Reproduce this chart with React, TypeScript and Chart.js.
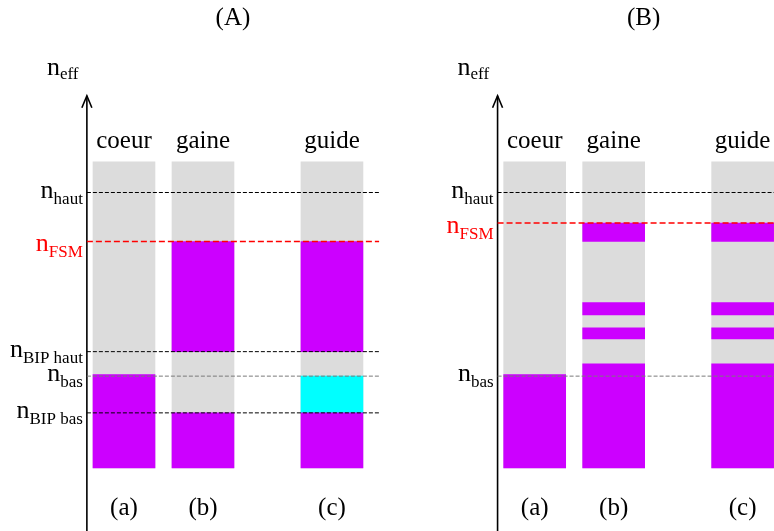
import React, { useEffect, useRef } from "react";
import { Chart, registerables } from "chart.js";

Chart.register(...registerables);

// ---------------- data ----------------
const panelTitles = ["(A)", "(B)"];
const panelShift = [0, 5.2]; // panel offset, in column pitches
const columnNames = ["coeur", "gaine", "guide"];
const columnTags = ["(a)", "(b)", "(c)"];
const columnX = [0, 1, 2.633]; // column centres, in column pitches
const axisX = -0.47;
const levelLineEnd = 3.23;

const xMin = -1.57;
const xMax = 8.23;
const yMin = -2.06;
const yMax = 15.29;
const axisTop = 12.16;

const bandBottom = 0;
const bandTop = 10;

const levelNamesA = ["haut", "FSM", "BIP haut", "bas", "BIP bas"];
const levelValuesA = [9.0, 7.4, 3.8, 3.0, 1.8];
const levelNamesB = ["haut", "FSM", "bas"];
const levelValuesB = [9.0, 8.0, 3.0];

// guided bands (magenta), [low, high]
const guidedACoeur = [[0, 3.05]];
const guidedAGaine = [[0, 1.8], [3.8, 7.4]];
const guidedAGuide = [[0, 1.8], [3.8, 7.4]];
const bipAGuide = [[1.8, 3.0]]; // cyan band
const guidedBCoeur = [[0, 3.05]];
const guidedBGaine = [[0, 3.4], [4.22, 4.58], [5.0, 5.4], [7.4, 8.0]];
const guidedBGuide = [[0, 3.4], [4.22, 4.58], [5.0, 5.4], [7.4, 8.0]];

// ---------------- styles ----------------
const GRAY = "#dcdcdc";
const MAGENTA = "#cc00ff";
const CYAN = "#00ffff";
const FONT = '"Liberation Serif", "Times New Roman", serif';
const levelStyle: Record<string, { color: string; dash: number[]; width: number; text: string; dy: number }> = {
  haut: { color: "#000", dash: [4, 2], width: 1, text: "#000", dy: 0 },
  FSM: { color: "#ff0000", dash: [6, 3], width: 1.5, text: "#ff0000", dy: 5 },
  "BIP haut": { color: "#000", dash: [4, 2], width: 1, text: "#000", dy: 0 },
  bas: { color: "#7a7a7a", dash: [4, 2], width: 1, text: "#000", dy: 0 },
  "BIP bas": { color: "#000", dash: [4, 2], width: 1, text: "#000", dy: 0 },
};

function buildDatasets() {
  const grayPts: any[] = [];
  const magPts: any[] = [];
  const cyanPts: any[] = [];
  panelShift.forEach((s) =>
    columnX.forEach((cx) => grayPts.push({ x: s + cx, y: [bandBottom, bandTop] }))
  );
  const guided = [
    [guidedACoeur, guidedAGaine, guidedAGuide],
    [guidedBCoeur, guidedBGaine, guidedBGuide],
  ];
  guided.forEach((cols, p) =>
    cols.forEach((segs, c) =>
      segs.forEach((seg) => magPts.push({ x: panelShift[p] + columnX[c], y: seg }))
    )
  );
  bipAGuide.forEach((seg) => cyanPts.push({ x: panelShift[0] + columnX[2], y: seg }));

  const ds: any[] = [
    { type: "bar", data: grayPts, backgroundColor: GRAY, barThickness: 62, grouped: false, order: 3 },
    { type: "bar", data: magPts, backgroundColor: MAGENTA, barThickness: 62, grouped: false, order: 2 },
    { type: "bar", data: cyanPts, backgroundColor: CYAN, barThickness: 62, grouped: false, order: 2 },
  ];
  const levels = [
    [levelNamesA, levelValuesA],
    [levelNamesB, levelValuesB],
  ] as [string[], number[]][];
  levels.forEach(([names, vals], p) => {
    const s = panelShift[p];
    names.forEach((nm, i) => {
      const st = levelStyle[nm];
      ds.push({
        type: "line",
        data: [
          { x: s + axisX, y: vals[i] },
          { x: s + levelLineEnd, y: vals[i] },
        ],
        borderColor: st.color,
        borderDash: st.dash,
        borderWidth: st.width,
        pointRadius: 0,
        fill: false,
        order: 0,
      });
    });
    ds.push({
      type: "line",
      data: [
        { x: s + axisX, y: yMin },
        { x: s + axisX, y: axisTop },
      ],
      borderColor: "#000",
      borderWidth: 1.6,
      pointRadius: 0,
      fill: false,
      order: 0,
    });
  });
  return { ds, levels };
}

function drawSub(
  ctx: CanvasRenderingContext2D,
  main: string,
  sub: string,
  left: number | null,
  right: number | null,
  base: number,
  subBase: number,
  color: string
) {
  ctx.font = `26px ${FONT}`;
  const wm = ctx.measureText(main).width;
  ctx.font = `17px ${FONT}`;
  const ws = ctx.measureText(sub).width;
  const x0 = left !== null ? left : (right as number) - wm - ws;
  ctx.fillStyle = color;
  ctx.textAlign = "left";
  ctx.textBaseline = "alphabetic";
  ctx.font = `26px ${FONT}`;
  ctx.fillText(main, x0, base);
  ctx.font = `17px ${FONT}`;
  ctx.fillText(sub, x0 + wm, subBase);
}

export default function App() {
  const ref = useRef<HTMLCanvasElement | null>(null);
  useEffect(() => {
    if (!ref.current) return;
    const { ds, levels } = buildDatasets();
    const textPlugin = {
      id: "textPlugin",
      afterDraw(chart: any) {
        const ctx: CanvasRenderingContext2D = chart.ctx;
        const xs = chart.scales.x;
        const ys = chart.scales.y;
        const top = chart.chartArea.top;
        const grayTopPx = ys.getPixelForValue(bandTop);
        const bottomPx = ys.getPixelForValue(bandBottom);
        const tipPx = ys.getPixelForValue(axisTop);
        ctx.save();
        panelShift.forEach((s, p) => {
          const axPx = xs.getPixelForValue(s + axisX);
          // arrow head
          ctx.strokeStyle = "#000";
          ctx.lineWidth = 1.6;
          ctx.beginPath();
          ctx.moveTo(axPx - 5, tipPx + 12);
          ctx.lineTo(axPx, tipPx);
          ctx.lineTo(axPx + 5, tipPx + 12);
          ctx.stroke();
          // title
          const c0 = xs.getPixelForValue(s + columnX[0]);
          const c2 = xs.getPixelForValue(s + columnX[2]);
          ctx.fillStyle = "#000";
          ctx.textAlign = "center";
          ctx.textBaseline = "alphabetic";
          ctx.font = `25px ${FONT}`;
          ctx.fillText(panelTitles[p], (c0 + c2) / 2 + 5, top + 25);
          // column names and tags
          columnX.forEach((cx, c) => {
            const px = xs.getPixelForValue(s + cx);
            ctx.font = `25px ${FONT}`;
            ctx.textAlign = "center";
            ctx.fillStyle = "#000";
            ctx.fillText(columnNames[c], px, grayTopPx - 14);
            ctx.fillText(columnTags[c], px, bottomPx + 47);
          });
          // n_eff
          drawSub(ctx, "n", "eff", axPx - 40, null, tipPx - 21, tipPx - 17, "#000");
          // level labels
          const [names, vals] = levels[p];
          names.forEach((nm, i) => {
            const st = levelStyle[nm];
            const ly = ys.getPixelForValue(vals[i]);
            drawSub(ctx, "n", nm, null, axPx - 4, ly + 5 + st.dy, ly + 11 + st.dy, st.text);
          });
        });
        ctx.restore();
      },
    };
    const chart = new Chart(ref.current, {
      type: "bar",
      data: { datasets: ds },
      options: {
        animation: false,
        responsive: false,
        events: [],
        layout: { padding: 0 },
        plugins: { legend: { display: false }, tooltip: { enabled: false } },
        scales: {
          x: { type: "linear", min: xMin, max: xMax, display: false, offset: false },
          y: { type: "linear", min: yMin, max: yMax, display: false },
        },
      } as any,
      plugins: [textPlugin],
    } as any);
    return () => chart.destroy();
  }, []);
  return (
    <div
      style={{
        position: "fixed",
        left: 0,
        top: 0,
        width: 774,
        height: 531,
        overflow: "hidden",
        background: "#fff",
      }}
    >
      <canvas ref={ref} width={774} height={531} style={{ display: "block" }} />
    </div>
  );
}
